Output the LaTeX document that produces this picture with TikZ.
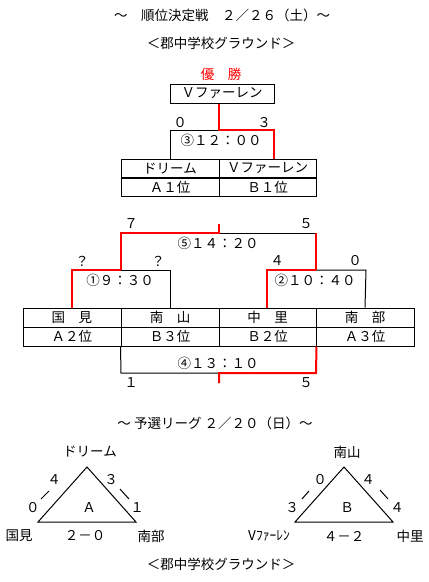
\documentclass[tikz,border=0pt]{standalone}
\usepackage{fontspec}
\setmainfont{Noto Sans CJK JP}
\begin{document}
\begin{tikzpicture}[x=1pt,y=-1pt,
  lbl/.style={inner sep=0pt, font=\fontsize{13.5}{14}\selectfont},
  cell/.style={draw, line width=1pt, inner sep=0pt, minimum height=19pt, font=\fontsize{13.5}{14}\selectfont},
  blk/.style={line width=1pt, black},
  win/.style={line width=2pt, red},
  tri/.style={line width=1pt, black, line join=miter}]
\useasboundingbox[fill=white] (0,0) rectangle (429,582);

% titles
\node[lbl] (t1) at (222,15) {～　順位決定戦　２／２６（土）～};
\node[lbl] (t2) at (221,43) {＜郡中学校グラウンド＞};
\node[lbl, text=red] (yusho) at (221,74) {優　勝};

% champion box
\node[cell, minimum width=104pt] (champ) at (222,93.5) {Ｖファーレン};

% top table
\node[cell, minimum width=98pt] (c1a) at (170,168.5) {ドリーム};
\node[cell, minimum width=97pt] (c1b) at (267.5,168.5) {Ｖファーレン};
\node[cell, minimum width=98pt] (c2a) at (170,187) {Ａ１位};
\node[cell, minimum width=97pt] (c2b) at (267.5,187) {Ｂ１位};

% bottom table
\node[cell, minimum width=98pt] (k1) at (72,317.5) {国　見};
\node[cell, minimum width=98pt] (k2) at (170,317.5) {南　山};
\node[cell, minimum width=97pt] (k3) at (267.5,317.5) {中　里};
\node[cell, minimum width=98pt] (k4) at (365,317.5) {南　部};
\node[cell, minimum width=98pt] (r1) at (72,336.5) {Ａ２位};
\node[cell, minimum width=98pt] (r2) at (170,336.5) {Ｂ３位};
\node[cell, minimum width=97pt] (r3) at (267.5,336.5) {Ｂ２位};
\node[cell, minimum width=98pt] (r4) at (365,336.5) {Ａ３位};

% joint coordinates
\coordinate (m3l) at (170,130);
\coordinate (m3c) at (219,130);
\coordinate (m3r) at (274,130);
\coordinate (m3leg) at (274,159);
\coordinate (m5t) at (219,224);
\coordinate (m5c) at (219,233);
\coordinate (m5l) at (121,233);
\coordinate (m5r) at (316,233);
\coordinate (m1l) at (72,270);
\coordinate (m1c) at (121,270);
\coordinate (m1r) at (170,270);
\coordinate (m2l) at (267,270);
\coordinate (m2c) at (316,270);
\coordinate (m2r) at (366,270);
\coordinate (m4l) at (121,373);
\coordinate (m4c) at (219,373);
\coordinate (m4r) at (316,373);
\coordinate (m4t) at (219,383);

% black bracket parts
\draw[blk] (c1a.north) -- (m3l) -- (m3c);
\draw[blk] (m5c) -- (m5r);
\draw[blk] (m1c) -- (m1r) -- (k2.north);
\draw[blk] (m2c) -- (m2r) -- (k4.north);
\draw[blk] (r2.south west) -- (m4l) -- (m4c);

% red (winner) parts
\draw[win] (m3c |- champ.south) -- (m3c) -- (m3r) -- (m3leg);
\draw[win] (m5t) -- (m5c) -- (m5l) -- (m1c);
\draw[win] (m5r) -- (m2c);
\draw[win] (k1.north) -- (m1l) -- (m1c);
\draw[win] (k3.north -| m2l) -- (m2l) -- (m2c);
\draw[win] (r3.south east) -- (m4r) -- (m4c) -- (m4t);

% match labels
\node[lbl] (g3) at (221,140) {③１２：００};
\node[lbl] (g5) at (218,243) {⑤１４：２０};
\node[lbl] (g1) at (120,280) {①９：３０};
\node[lbl] (g2) at (315,280) {②１０：４０};
\node[lbl] (g4) at (218,363) {④１３：１０};

% scores
\node[lbl] (s3a) at (180,123) {０};
\node[lbl] (s3b) at (264,123) {３};
\node[lbl] (s5a) at (131,224) {７};
\node[lbl] (s5b) at (306,224) {５};
\node[lbl] (s1a) at (82,261) {？};
\node[lbl] (s1b) at (158,261) {？};
\node[lbl] (s2a) at (277,261) {４};
\node[lbl] (s2b) at (355,261) {０};
\node[lbl] (s4a) at (131,383) {１};
\node[lbl] (s4b) at (306,383) {５};

% league title
\node[lbl] (t3) at (215,423) {～ 予選リーグ ２／２０（日）～};

% triangle A
\coordinate (A1) at (87,467);
\coordinate (A2) at (38,522);
\coordinate (A3) at (136,522);
\draw[tri] (A1) -- (A2) -- (A3) -- cycle;
\node[lbl] (An) at (90,452) {ドリーム};
\node[lbl] (Al) at (19,536) {国見};
\node[lbl] (Ar) at (151,536) {南部};
\node[lbl] (As) at (85,536) {２－０};
\node[lbl] (Ac) at (89,508) {Ａ};
\node[lbl] (A4) at (54,480) {４};
\node[lbl] (A0) at (33,508) {０};
\node[lbl] (A3s) at (111,480) {３};
\node[lbl] (A1s) at (137,508) {１};
\coordinate (Ad1a) at (41,499); \coordinate (Ad1b) at (49,491);
\coordinate (Ad2a) at (120,489); \coordinate (Ad2b) at (129,499);
\draw[blk] (Ad1a) -- (Ad1b);
\draw[blk] (Ad2a) -- (Ad2b);

% triangle B
\coordinate (B1) at (344,467);
\coordinate (B2) at (295,522);
\coordinate (B3) at (393,522);
\draw[tri] (B1) -- (B2) -- (B3) -- cycle;
\node[lbl] (Bn) at (347,452) {南山};
\node[lbl] (Bl) at (269,536) {Vﾌｧｰﾚﾝ};
\node[lbl] (Br) at (410,536) {中里};
\node[lbl] (Bs) at (344,536) {４－２};
\node[lbl] (Bc) at (347,508) {Ｂ};
\node[lbl] (B0) at (320,480) {０};
\node[lbl] (B4a) at (368,480) {４};
\node[lbl] (B3s) at (292,508) {３};
\node[lbl] (B4b) at (397,508) {４};
\coordinate (Bd1a) at (302,499); \coordinate (Bd1b) at (309,491);
\coordinate (Bd2a) at (380,490); \coordinate (Bd2b) at (388,499);
\draw[blk] (Bd1a) -- (Bd1b);
\draw[blk] (Bd2a) -- (Bd2b);

\node[lbl] (t4) at (221,564) {＜郡中学校グラウンド＞};
\end{tikzpicture}
\end{document}
